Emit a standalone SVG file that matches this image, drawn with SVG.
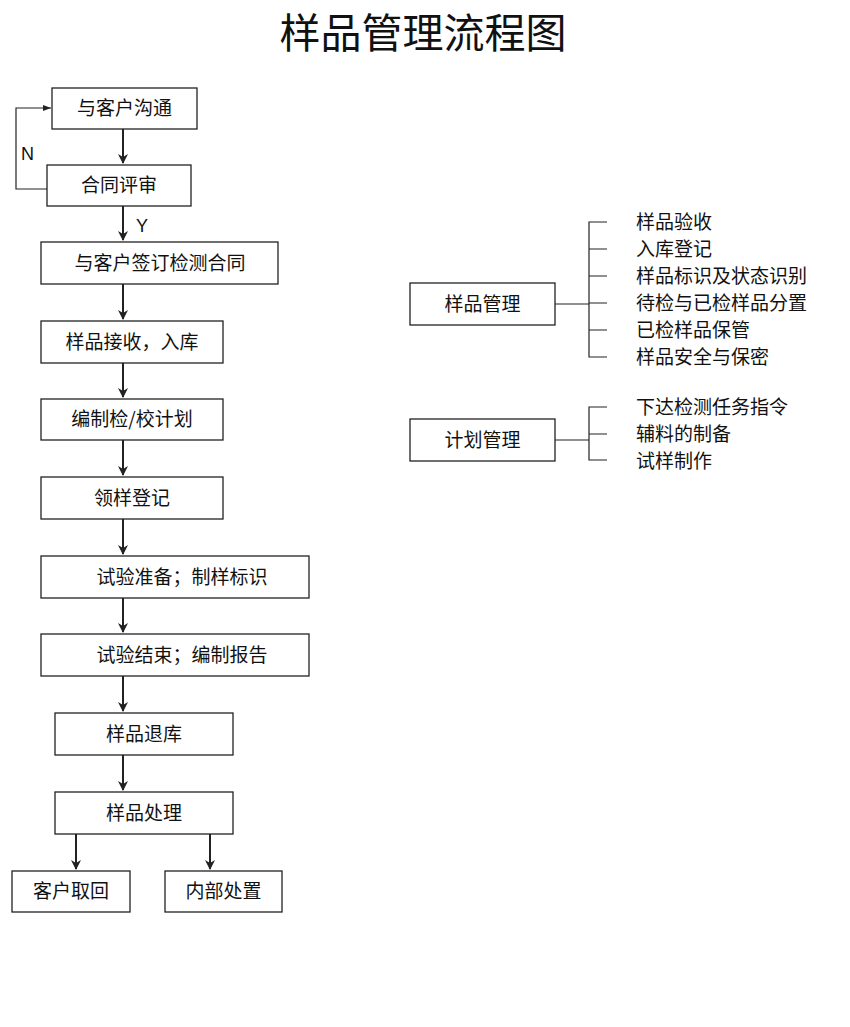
<svg xmlns="http://www.w3.org/2000/svg" width="850" height="1027" viewBox="0 0 850 1027">
<style>
text{font-family:"Noto Sans CJK SC","Liberation Sans",sans-serif;fill:#111}
.b rect{fill:#fff;stroke:#222;stroke-width:1.3}
.b text{font-size:19px;text-anchor:middle}
.c{stroke:#222;stroke-width:2;fill:none}
.t{stroke:#222;stroke-width:1.2;fill:none}
.l{font-size:19px}
</style>
<defs>
<marker id="a" markerWidth="10" markerHeight="10" refX="9" refY="5" orient="auto" markerUnits="userSpaceOnUse"><path d="M0,0 L10,5 L0,10 L3,5 Z" fill="#222"/></marker>
<marker id="s" markerWidth="8" markerHeight="8" refX="8" refY="4" orient="auto" markerUnits="userSpaceOnUse"><path d="M0,1 L8,4 L0,7 Z" fill="#222"/></marker>
</defs>
<rect width="850" height="1027" fill="#fff"/>
<text x="423" y="48" font-size="41" text-anchor="middle">样品管理流程图</text>
<g id="connectors">
<path class="c" d="M123,129V163" marker-end="url(#a)"/>
<path class="c" d="M123,206V240" marker-end="url(#a)"/>
<path class="c" d="M123,284V319" marker-end="url(#a)"/>
<path class="c" d="M123,363V397" marker-end="url(#a)"/>
<path class="c" d="M123,440V475" marker-end="url(#a)"/>
<path class="c" d="M123,519V554" marker-end="url(#a)"/>
<path class="c" d="M123,598V632" marker-end="url(#a)"/>
<path class="c" d="M123,676V711" marker-end="url(#a)"/>
<path class="c" d="M123,755V790" marker-end="url(#a)"/>
<path class="c" d="M76,834V869" marker-end="url(#a)"/>
<path class="c" d="M210,834V869" marker-end="url(#a)"/>
<path class="t" d="M47,189H16V108H51" marker-end="url(#s)"/>
<text x="21" y="160" font-size="18" style="font-family:'Liberation Sans',sans-serif">N</text>
<text x="136" y="232" font-size="18" style="font-family:'Liberation Sans',sans-serif">Y</text>
<path class="t" d="M555,304H589M607,222H589V357H607M589,249H607M589,276H607M589,303H607M589,330H607"/>
<path class="t" d="M555,440H589M607,407H589V460H607M589,434H607"/>
</g>
<g id="n1" class="b"><rect x="52" y="88" width="145" height="41"/><text x="124.5" y="115">与客户沟通</text></g>
<g id="n2" class="b"><rect x="47" y="165" width="144" height="41"/><text x="119" y="192">合同评审</text></g>
<g id="n3" class="b"><rect x="41" y="242" width="237" height="42"/><text x="160" y="270">与客户签订检测合同</text></g>
<g id="n4" class="b"><rect x="41" y="321" width="182" height="42"/><text x="132" y="349">样品接收，入库</text></g>
<g id="n5" class="b"><rect x="41" y="399" width="182" height="41"/><text x="132" y="426">编制检/校计划</text></g>
<g id="n6" class="b"><rect x="41" y="477" width="182" height="42"/><text x="132" y="505">领样登记</text></g>
<g id="n7" class="b"><rect x="41" y="556" width="268" height="42"/><text x="182" y="584">试验准备；制样标识</text></g>
<g id="n8" class="b"><rect x="41" y="634" width="268" height="42"/><text x="182" y="662">试验结束；编制报告</text></g>
<g id="n9" class="b"><rect x="55" y="713" width="178" height="42"/><text x="144" y="741">样品退库</text></g>
<g id="n10" class="b"><rect x="55" y="792" width="178" height="42"/><text x="144" y="820">样品处理</text></g>
<g id="n11" class="b"><rect x="12" y="871" width="118" height="41"/><text x="71" y="898">客户取回</text></g>
<g id="n12" class="b"><rect x="165" y="871" width="117" height="41"/><text x="223.5" y="898">内部处置</text></g>
<g id="m1" class="b"><rect x="410" y="283" width="145" height="42"/><text x="482.5" y="311">样品管理</text></g>
<g id="m2" class="b"><rect x="410" y="419" width="145" height="42"/><text x="482.5" y="447">计划管理</text></g>
<g id="items">
<text class="l" x="636" y="229">样品验收</text>
<text class="l" x="636" y="256">入库登记</text>
<text class="l" x="636" y="283">样品标识及状态识别</text>
<text class="l" x="636" y="310">待检与已检样品分置</text>
<text class="l" x="636" y="337">已检样品保管</text>
<text class="l" x="636" y="364">样品安全与保密</text>
<text class="l" x="636" y="414">下达检测任务指令</text>
<text class="l" x="636" y="441">辅料的制备</text>
<text class="l" x="636" y="468">试样制作</text>
</g>
</svg>
